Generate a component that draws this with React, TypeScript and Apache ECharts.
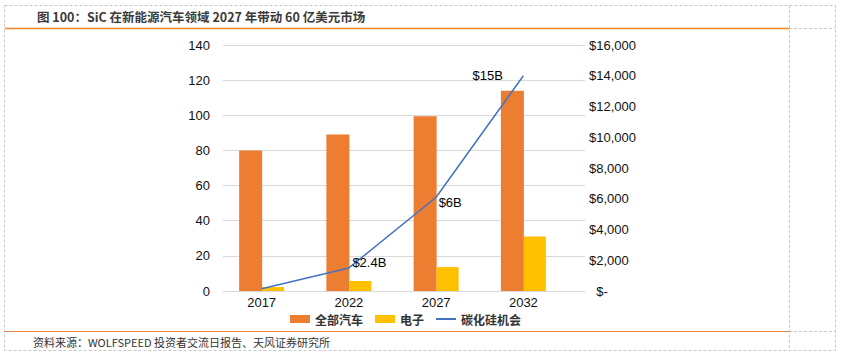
import React, { useEffect, useRef } from "react";
import * as echarts from "echarts";

const years = ["2017", "2022", "2027", "2032"];
const allCars = [80, 89, 99.5, 114];
const electronics = [2.3, 5.7, 13.6, 31];
const sicOpportunity = [150, 1500, 6100, 14000];
const lineLabels = ["", "$2.4B", "$6B", "$15B"];
const seriesNames = ["全部汽车", "电子", "碳化硅机会"];
const titleText = "图 100：SiC 在新能源汽车领域 2027 年带动 60 亿美元市场";
const sourceText = "资料来源：WOLFSPEED 投资者交流日报告、天风证券研究所";

const AX_FONT = "'Liberation Sans', Arial, sans-serif";
const CJK_FONT = "'Noto Sans CJK SC', sans-serif";
const LINE_COLOR = "#4472C4";

export default function App() {
  const ref = useRef<HTMLDivElement>(null);
  useEffect(() => {
    if (!ref.current) return;
    const chart = echarts.init(ref.current, undefined, { renderer: "svg" });
    const labelPos: any[] = [
      { show: false },
      { show: true, position: "right", distance: 3, offset: [0, -5] },
      { show: true, position: "right", distance: 2, offset: [0, 5] },
      { show: true, position: "left", distance: 20, offset: [0, 0] },
    ];
    chart.setOption({
      animation: false,
      backgroundColor: "#fff",
      grid: [
        { left: 223, right: 257, top: 45, bottom: 64 },
        { left: 218, right: 275, top: 45, bottom: 64 },
      ],
      xAxis: [
        { type: "category", gridIndex: 0, data: years, show: false },
        {
          type: "category",
          gridIndex: 1,
          data: years,
          axisLine: { show: false },
          axisTick: { show: false },
          axisLabel: { color: "#111", fontSize: 13, fontFamily: AX_FONT, margin: 5 },
        },
      ],
      yAxis: [
        {
          type: "value",
          gridIndex: 0,
          min: 0,
          max: 140,
          interval: 20,
          axisLine: { show: false },
          axisTick: { show: false },
          splitLine: { lineStyle: { color: "#D9D9D9", width: 1 } },
          axisLabel: { color: "#111", fontSize: 13, fontFamily: AX_FONT, margin: 13 },
        },
        {
          type: "value",
          gridIndex: 0,
          position: "right",
          min: 0,
          max: 16000,
          interval: 2000,
          axisLine: { show: false },
          axisTick: { show: false },
          splitLine: { show: false },
          axisLabel: {
            color: "#111",
            fontSize: 13,
            fontFamily: AX_FONT,
            margin: 4,
            formatter: (v: number) => (v === 0 ? "  $-" : "$" + v.toLocaleString("en-US")),
          },
        },
        { type: "value", gridIndex: 1, min: 0, max: 140, show: false },
        { type: "value", gridIndex: 1, min: 0, max: 16000, show: false },
      ],
      legend: {
        left: 290,
        top: 313,
        padding: 0,
        itemGap: 12,
        itemWidth: 20,
        itemHeight: 8,
        symbolKeepAspect: true,
        textStyle: { color: "#333", fontSize: 12, fontWeight: "bold", fontFamily: CJK_FONT },
        data: [
          { name: seriesNames[0], icon: "rect" },
          { name: seriesNames[1], icon: "rect" },
          {
            name: seriesNames[2],
            icon: "path://M0,0 L20,0 L20,2 L0,2 Z",
            itemStyle: { color: LINE_COLOR, opacity: 1 },
          },
        ],
      },
      series: [
        {
          name: seriesNames[0],
          type: "bar",
          xAxisIndex: 1,
          yAxisIndex: 2,
          data: allCars,
          barWidth: 23,
          barGap: "0%",
          itemStyle: { color: "#ED7D31" },
        },
        {
          name: seriesNames[1],
          type: "bar",
          xAxisIndex: 1,
          yAxisIndex: 2,
          data: electronics,
          barWidth: 22,
          barGap: "0%",
          itemStyle: { color: "#FFC000" },
        },
        {
          name: seriesNames[2],
          type: "line",
          xAxisIndex: 1,
          yAxisIndex: 3,
          symbol: "circle",
          symbolSize: 1,
          showSymbol: true,
          lineStyle: { color: LINE_COLOR, width: 1.5 },
          itemStyle: { color: "rgba(0,0,0,0)", borderWidth: 0 },
          data: sicOpportunity.map((v, i) => ({
            value: v,
            label: {
              ...labelPos[i],
              formatter: lineLabels[i],
              color: "#000",
              fontSize: 13,
              fontFamily: AX_FONT,
            },
          })),
        },
      ],
      graphic: [
        {
          type: "rect",
          shape: { x: 4.5, y: 5.5, width: 831, height: 345 },
          style: { fill: "none", stroke: "#C8C8C8", lineWidth: 1, lineDash: [3, 2] },
          silent: true,
        },
        {
          type: "line",
          shape: { x1: 789.5, y1: 5, x2: 789.5, y2: 351 },
          style: { stroke: "#C8C8C8", lineWidth: 1, lineDash: [3, 2] },
        },
        {
          type: "line",
          shape: { x1: 789, y1: 28.5, x2: 835, y2: 28.5 },
          style: { stroke: "#C8C8C8", lineWidth: 1, lineDash: [3, 2] },
        },
        {
          type: "line",
          shape: { x1: 789, y1: 331.5, x2: 835, y2: 331.5 },
          style: { stroke: "#C8C8C8", lineWidth: 1, lineDash: [3, 2] },
        },
        {
          type: "line",
          shape: { x1: 5, y1: 28.5, x2: 789, y2: 28.5 },
          style: { stroke: "#F5861F", lineWidth: 1.5 },
        },
        {
          type: "line",
          shape: { x1: 5, y1: 331.5, x2: 789, y2: 331.5 },
          style: { stroke: "#E5813A", lineWidth: 1.2 },
        },
        {
          type: "text",
          x: 37,
          y: 16,
          style: {
            text: titleText,
            fill: "#3A3A3A",
            font: "bold 12.5px 'Noto Sans CJK SC', sans-serif",
            verticalAlign: "middle",
          },
        },
        {
          type: "text",
          x: 33,
          y: 342,
          style: {
            text: sourceText,
            fill: "#333",
            font: "11px 'Noto Sans CJK SC', sans-serif",
            verticalAlign: "middle",
          },
        },
      ],
    });
    return () => chart.dispose();
  }, []);
  return (
    <div
      ref={ref}
      style={{ position: "fixed", left: 0, top: 0, width: 842, height: 355 }}
    />
  );
}
